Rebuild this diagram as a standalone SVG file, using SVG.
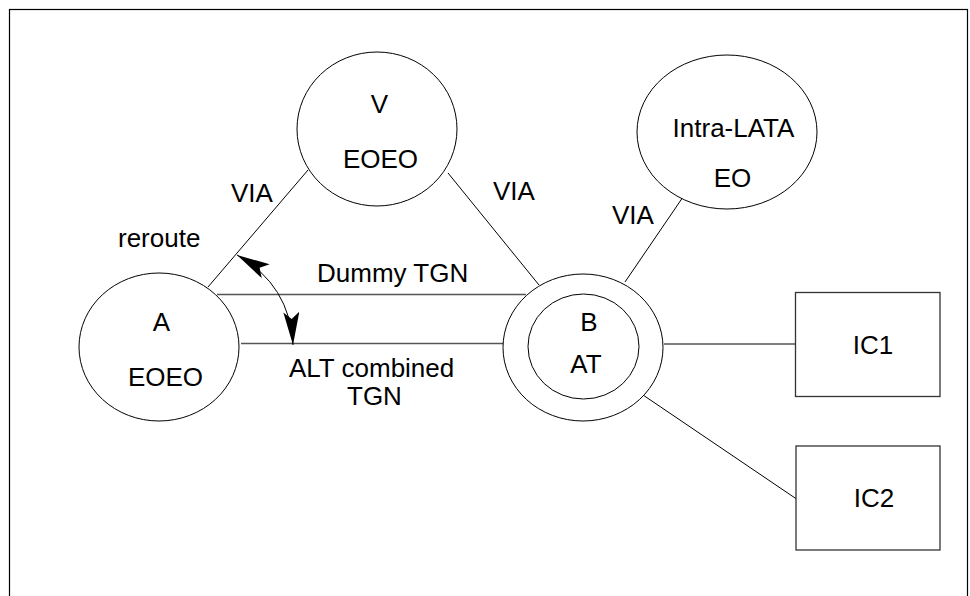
<svg xmlns="http://www.w3.org/2000/svg" width="970" height="596" viewBox="0 0 970 596">
<style>
  .node { fill: #fff; stroke: #000; stroke-width: 1; }
  .box { fill: #fff; stroke: #333; stroke-width: 1.3; }
  .lbl { font-family: "Liberation Sans", Arial, sans-serif; font-size: 26px; fill: #000; }
  .mid { text-anchor: middle; }
  .ln { stroke: #000; stroke-width: 1; fill: none; }
  .gray { stroke: #555; stroke-width: 1.4; fill: none; }
</style>
<defs>
  <marker id="ah" markerUnits="userSpaceOnUse" markerWidth="34" markerHeight="16" viewBox="0 0 34 16" refX="33" refY="8" orient="auto-start-reverse">
    <path d="M33,8 L0,0 L7,8 L0,16 Z" fill="#000"/>
  </marker>
</defs>
<rect x="9.5" y="9.5" width="958" height="600" fill="#fff" stroke="#000" stroke-width="1.2"/>
<g id="connectors">
  <line class="ln" x1="208" y1="287" x2="308" y2="170"/>
  <line class="ln" x1="448" y1="173" x2="539" y2="285"/>
  <line class="ln" x1="683" y1="197" x2="625" y2="282"/>
  <line class="gray" x1="217" y1="294.5" x2="526" y2="294.5"/>
  <line class="gray" x1="241" y1="343.5" x2="503" y2="343.5"/>
  <line class="ln" x1="664" y1="344" x2="795" y2="344"/>
  <line class="ln" x1="643" y1="395" x2="798" y2="500"/>
  <path class="ln" d="M237,255 Q290,285 293,345" marker-start="url(#ah)" marker-end="url(#ah)"/>
  <text class="lbl" x="231" y="202">VIA</text>
  <text class="lbl" x="493" y="200">VIA</text>
  <text class="lbl" x="612" y="224">VIA</text>
  <text class="lbl" x="118" y="247">reroute</text>
  <text class="lbl" x="317" y="282">Dummy TGN</text>
  <text class="lbl" x="289" y="377">ALT combined</text>
  <text class="lbl" x="347" y="405">TGN</text>
</g>
<g id="node-V">
  <ellipse class="node" cx="377" cy="129" rx="80" ry="77"/>
  <text class="lbl mid" x="379.5" y="113">V</text>
  <text class="lbl mid" x="380.5" y="168">EOEO</text>
</g>
<g id="node-Intra">
  <ellipse class="node" cx="727" cy="132" rx="90" ry="77"/>
  <text class="lbl mid" x="733.5" y="137">Intra-LATA</text>
  <text class="lbl mid" x="732.5" y="187">EO</text>
</g>
<g id="node-A">
  <ellipse class="node" cx="159" cy="347" rx="80" ry="74"/>
  <text class="lbl mid" x="161.5" y="331">A</text>
  <text class="lbl mid" x="165.5" y="386">EOEO</text>
</g>
<g id="node-B">
  <ellipse class="node" cx="583" cy="347.5" rx="80" ry="73.5"/>
  <ellipse class="node" cx="583.5" cy="346.5" rx="55.5" ry="52.5"/>
  <text class="lbl mid" x="589" y="331">B</text>
  <text class="lbl mid" x="586" y="373">AT</text>
</g>
<g id="node-IC1">
  <rect class="box" x="795.5" y="292.5" width="144.5" height="104"/>
  <text class="lbl mid" x="873" y="354">IC1</text>
</g>
<g id="node-IC2">
  <rect class="box" x="796" y="446" width="144" height="104"/>
  <text class="lbl mid" x="874" y="507">IC2</text>
</g>
</svg>
